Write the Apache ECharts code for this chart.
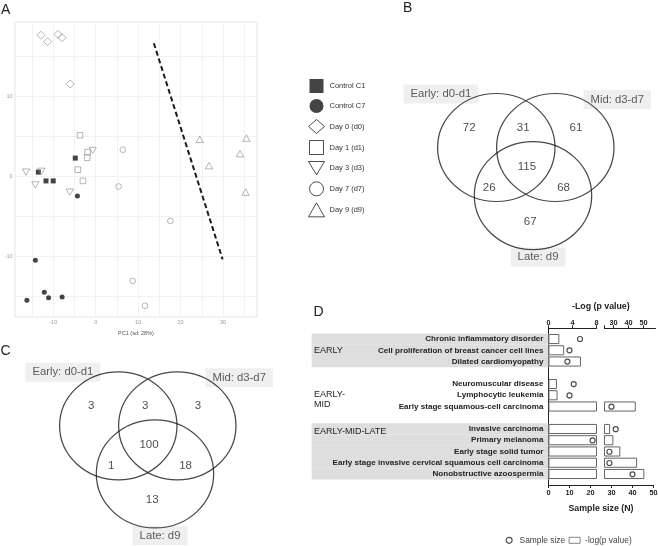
<!DOCTYPE html>
<html><head><meta charset="utf-8">
<script src="https://cdn.jsdelivr.net/npm/echarts@6/dist/echarts.min.js"></script>
<style>html,body{margin:0;padding:0;background:#fff}#c{width:658px;height:546px}</style>
</head><body><div id="c"></div>
<script>
// ---------- Panel A: PCA scores ----------
const controlC1 = [[-13.5,0.5],[-11.7,-0.6],[-10.0,-0.6],[-4.8,2.25]];
const controlC7 = [[-4.3,-2.5],[-14.2,-10.5],[-12.1,-14.5],[-11.1,-15.2],[-7.9,-15.1],[-16.2,-15.5]];
const day0 = [[-12.9,17.6],[-11.3,16.8],[-8.9,17.7],[-7.9,17.3],[-6.0,11.5]];
const day1 = [[-3.7,5.1],[-1.9,3.0],[-2.0,2.3],[-4.2,0.8],[-3.0,-0.6]];
const day3 = [[-16.4,0.5],[-12.8,0.6],[-14.2,-1.1],[-0.7,3.2],[-6.1,-2.0]];
const day7 = [[6.4,3.3],[5.4,-1.3],[17.6,-5.6],[8.7,-13.1],[11.6,-16.2]];
const day9 = [[24.5,4.6],[26.7,1.3],[34.0,2.8],[35.5,4.75],[35.3,-2.0]];
const dividerLine = [[13.7,16.6],[29.9,-10.4]];
const pcXTicks = [-10,0,10,20,30];
const pcYTicks = [-10,0,10];
const pcGridX = [-15,-10,-5,0,5,10,15,20,25,30,35];
const pcGridY = [-15,-10,-5,0,5,10,15];

// ---------- Panels B and C: Venn counts ----------
// order: Early only, Early∩Mid, Mid only, all three, Early∩Late, Mid∩Late, Late only
const vennSetNames = ['Early: d0-d1','Mid: d3-d7','Late: d9'];
const vennB = [72,31,61,115,26,68,67];
const vennC = [3,3,3,100,1,18,13];

// ---------- Panel D: enrichment ----------
const categories = ['Chronic inflammatory disorder','Cell proliferation of breast cancer cell lines','Dilated cardiomyopathy',
  'Neuromuscular disease','Lymphocytic leukemia','Early stage squamous-cell carcinoma',
  'Invasive carcinoma','Primary melanoma','Early stage solid tumor','Early stage invasive cervical squamous cell carcinoma','Nonobstructive azoospermia'];
const groups = ['EARLY','EARLY','EARLY','EARLY-MID','EARLY-MID','EARLY-MID',
  'EARLY-MID-LATE','EARLY-MID-LATE','EARLY-MID-LATE','EARLY-MID-LATE','EARLY-MID-LATE'];
const negLogP = [1.8,2.6,5.4,1.4,1.5,44.8,27.7,29.9,34.5,45.7,50.5];
const sampleSize = [15,10,9,12,10,30,32,21,29,29,40];
const pTicksLow = [0,4,8];
const pTicksHigh = [30,40,50];
const shadedGroups = ['EARLY','EARLY-MID-LATE'];

// ---------- layout (not data) ----------
const vennCircleLayout = [[0,0],[1,0],[0.622,-0.89]];
const vennRegionLayout = [[-0.46,0.37],[0.455,0.37],[1.35,0.37],[0.52,-0.35],[-0.12,-0.74],[1.14,-0.74],[0.574,-1.38]];
const vennLabelLayout = [[-0.94,0.99],[2.05,0.89],[0.707,-2.03]];

// build rows for D with blank spacer rows between groups
const rowNames=[], rowP=[], rowN=[], rowShade=[];
let prevG=null, sp=0;
categories.forEach((c,i)=>{
  if(prevG!==null && groups[i]!==prevG){ sp++; rowNames.push(' '.repeat(sp)); rowP.push('-'); rowN.push(null); rowShade.push('-'); }
  rowNames.push(c); rowP.push(negLogP[i]); rowN.push(sampleSize[i]);
  rowShade.push(shadedGroups.indexOf(groups[i])>=0?1:'-');
  prevG=groups[i];
});
const highMin = 24, lowMax = 8;

const FONT = 'Liberation Sans, Arial, sans-serif';
const hollow = {color:'rgba(255,255,255,0)', borderColor:'#8c8c8c', borderWidth:0.8};
const filled = {color:'#151515', borderColor:'#151515', borderWidth:0};
const SQ = 'path://M0,0H10V10H0Z';
const INVTRI = 'path://M0,0H12L6,10Z';

function pts(name, data, symbol, size, style){
  return {type:'scatter', name, xAxisIndex:0, yAxisIndex:0, data, symbol, symbolSize:size, itemStyle:style, silent:true, z:3};
}

function vennSeries(gi, counts){
  return [
    {type:'scatter', xAxisIndex:gi, yAxisIndex:gi, silent:true, z:2,
      data: vennSetNames.map((n,i)=>({name:n, value:vennLabelLayout[i]})),
      symbolSize:1, itemStyle:{color:'rgba(0,0,0,0)'},
      label:{show:true, position:'inside', formatter:'{b}', backgroundColor:'#ebebeb', padding:[4,7,4,7],
        fontSize:11.3, color:'#333', fontFamily:FONT}},
    {type:'scatter', xAxisIndex:gi, yAxisIndex:gi, silent:true, z:3,
      data: vennCircleLayout, symbol:'circle', symbolSize:[117.4,108],
      itemStyle:{color:'rgba(0,0,0,0)', borderColor:'#1a1a1a', borderWidth:1.2}},
    {type:'scatter', xAxisIndex:gi, yAxisIndex:gi, silent:true, z:4,
      data: counts.map((v,i)=>({value:[vennRegionLayout[i][0], vennRegionLayout[i][1], v]})),
      symbolSize:1, itemStyle:{color:'rgba(0,0,0,0)'},
      label:{show:true, position:'inside', formatter:p=>String(p.value[2]), fontSize:11.5, color:'#222', fontFamily:FONT}}
  ];
}

const hiddenAxis = (gi,min,max)=>({type:'value', gridIndex:gi, min, max, show:false, splitLine:{show:false}});
const boldLbl = {fontSize:7.3, fontWeight:'bold', color:'#222', fontFamily:FONT};

const option = {
  animation:false,
  backgroundColor:'#fff',
  textStyle:{fontFamily:FONT},
  grid:[
    {left:15, top:22, width:242, height:295, show:true, borderColor:'#dedede', borderWidth:0.8, backgroundColor:'#fff', outerBoundsMode:'none'},
    {left:384.2, top:66.5, width:265.5, height:216, outerBoundsMode:'none'},
    {left:6.2, top:344.8, width:265.5, height:216, outerBoundsMode:'none'},
    {left:311.7, top:333.4, width:236.8, height:146.2, outerBoundsMode:'none'},
    {left:548.5, top:333.4, width:48, height:146.2, outerBoundsMode:'none'},
    {left:604.5, top:333.4, width:51, height:146.2, outerBoundsMode:'none'},
    {left:548.5, top:328.3, width:105, height:156.7, outerBoundsMode:'none'}
  ],
  xAxis:[
    {type:'value', gridIndex:0, min:-19, max:38,
      axisLine:{show:false}, axisTick:{show:false, customValues:pcGridX},
      axisLabel:{customValues:pcXTicks, fontSize:5.5, color:'#9a9a9a', margin:2.5},
      splitLine:{show:true, lineStyle:{color:'#ececec', width:0.7}},
      name:'PC1 (sd: 28%)', nameLocation:'middle', nameGap:7, nameTextStyle:{fontSize:5.5, color:'#555'}},
    hiddenAxis(1,-1.9,2.6),
    hiddenAxis(2,-1.9,2.6),
    hiddenAxis(3,0,1),
    {type:'value', gridIndex:4, position:'top', offset:5.1, min:0, max:lowMax, interval:4,
      axisLine:{show:true, lineStyle:{color:'#222', width:1}},
      axisTick:{show:true, length:3, lineStyle:{color:'#222'}},
      axisLabel:Object.assign({margin:2, customValues:pTicksLow}, boldLbl), splitLine:{show:false}},
    {type:'value', gridIndex:5, position:'top', offset:5.1, min:highMin, max:58,
      axisLine:{show:true, lineStyle:{color:'#222', width:1}},
      axisTick:{show:true, length:3, lineStyle:{color:'#222'}, customValues:[highMin].concat(pTicksHigh)},
      axisLabel:Object.assign({margin:2, customValues:pTicksHigh}, boldLbl), splitLine:{show:false}},
    {type:'value', gridIndex:6, position:'bottom', min:0, max:50, interval:10,
      axisLine:{show:true, onZero:false, lineStyle:{color:'#222', width:1}},
      axisTick:{show:true, length:3, lineStyle:{color:'#222'}},
      axisLabel:Object.assign({margin:4}, boldLbl), splitLine:{show:false},
      name:'Sample size (N)', nameLocation:'middle', nameGap:19,
      nameTextStyle:{fontSize:8.8, fontWeight:'bold', color:'#222'}}
  ],
  yAxis:[
    {type:'value', gridIndex:0, min:-17.6, max:19.25,
      axisLine:{show:false}, axisTick:{show:false, customValues:pcGridY},
      axisLabel:{customValues:pcYTicks, fontSize:5.5, color:'#9a9a9a', margin:2.5},
      splitLine:{show:true, lineStyle:{color:'#ececec', width:0.7}},
      name:'PC2 (sd: 16%)', nameLocation:'middle', nameGap:6, nameRotate:90, nameTextStyle:{fontSize:5.5, color:'#555'}},
    hiddenAxis(1,-2.5,1.5),
    hiddenAxis(2,-2.5,1.5),
    {type:'category', gridIndex:3, data:rowNames, inverse:true, show:false},
    {type:'category', gridIndex:4, data:rowNames, inverse:true, z:5,
      axisLine:{show:false}, axisTick:{show:false},
      axisLabel:{fontSize:8.1, fontWeight:'bold', color:'#222', margin:5, interval:0}},
    {type:'category', gridIndex:5, data:rowNames, inverse:true, show:false},
    {type:'value', gridIndex:6, min:-0.95, max:rowNames.length-0.05, inverse:true,
      axisLine:{show:true, onZero:false, lineStyle:{color:'#222', width:1}},
      axisTick:{show:false}, axisLabel:{show:false}, splitLine:{show:false}}
  ],
  legend:[
    {orient:'vertical', left:303, top:74, itemWidth:16, itemHeight:14, itemGap:6, selectedMode:false,
      textStyle:{fontSize:7.5, color:'#333'},
      data:[
        {name:'Control C1', icon:SQ, itemStyle:{color:'#151515', borderColor:'#151515', borderWidth:0}},
        {name:'Control C7', icon:'circle', itemStyle:{color:'#151515', borderColor:'#151515', borderWidth:0}},
        {name:'Day 0 (d0)', icon:'diamond', itemStyle:{color:'#fff', borderColor:'#222', borderWidth:1}},
        {name:'Day 1 (d1)', icon:SQ, itemStyle:{color:'#fff', borderColor:'#222', borderWidth:1}},
        {name:'Day 3 (d3)', icon:INVTRI, itemStyle:{color:'#fff', borderColor:'#222', borderWidth:1}},
        {name:'Day 7 (d7)', icon:'circle', itemStyle:{color:'#fff', borderColor:'#222', borderWidth:1}},
        {name:'Day 9 (d9)', icon:'triangle', itemStyle:{color:'#fff', borderColor:'#222', borderWidth:1}}
      ]},
    {orient:'horizontal', left:500.5, top:531.3, itemWidth:11, itemHeight:6, itemGap:3.5, selectedMode:false,
      textStyle:{fontSize:8.4, color:'#444'},
      data:[
        {name:'Sample size', icon:'circle', itemStyle:{color:'#fff', borderColor:'#222', borderWidth:1.2}},
        {name:'-log(p value)', icon:'rect', itemStyle:{color:'#fff', borderColor:'#666', borderWidth:0.8}}
      ]}
  ],
  graphic:[
    {type:'text', left:1, top:3, z:100, style:{text:'A', fontSize:14, fill:'#222', fontFamily:FONT}},
    {type:'text', left:403, top:1, z:100, style:{text:'B', fontSize:14, fill:'#222', fontFamily:FONT}},
    {type:'text', left:0.5, top:344, z:100, style:{text:'C', fontSize:14, fill:'#222', fontFamily:FONT}},
    {type:'text', left:313.5, top:305.5, z:100, style:{text:'D', fontSize:14, fill:'#222', fontFamily:FONT}},
    {type:'text', left:314, top:346, z:100, style:{text:'EARLY', fontSize:9, fill:'#222', fontFamily:FONT}},
    {type:'text', left:314, top:389.5, z:100, style:{text:'EARLY-\nMID', fontSize:9, lineHeight:10, fill:'#222', fontFamily:FONT}},
    {type:'text', left:314, top:427, z:100, style:{text:'EARLY-MID-LATE', fontSize:9, fill:'#222', fontFamily:FONT}},
    {type:'text', left:572, top:302, z:100, style:{text:'-Log (p value)', fontSize:8.8, fontWeight:'bold', fill:'#222', fontFamily:FONT}}
  ],
  series:[
    pts('Control C1', controlC1, 'rect', 5, filled),
    pts('Control C7', controlC7, 'circle', 5, filled),
    pts('Day 0 (d0)', day0, 'diamond', 8, hollow),
    pts('Day 1 (d1)', day1, 'rect', 5.6, hollow),
    pts('Day 3 (d3)', day3, INVTRI, [7.3,6.3], hollow),
    pts('Day 7 (d7)', day7, 'circle', 5.7, hollow),
    pts('Day 9 (d9)', day9, 'triangle', [7.3,6.5], hollow),
    {type:'line', xAxisIndex:0, yAxisIndex:0, data:dividerLine, symbol:'none', silent:true, z:4,
      lineStyle:{color:'#1a1a1a', width:2, type:[5,3]}},
    ...vennSeries(1, vennB),
    ...vennSeries(2, vennC),
    {type:'bar', xAxisIndex:3, yAxisIndex:3, data:rowShade, barCategoryGap:'0%', silent:true, z:0,
      itemStyle:{color:'#dedede'}},
    {type:'bar', name:'-log(p value)', xAxisIndex:4, yAxisIndex:4, data:rowP, barWidth:10, silent:true, clip:true, z:2,
      itemStyle:{color:'#fff', borderColor:'#555', borderWidth:0.9}},
    {type:'bar', name:'-log(p value)', xAxisIndex:5, yAxisIndex:5, data:rowP.map(v=>(v!=='-' && v>highMin)?v:'-'), barWidth:10, silent:true, clip:true, z:2,
      itemStyle:{color:'#fff', borderColor:'#555', borderWidth:0.9}},
    {type:'scatter', name:'Sample size', xAxisIndex:6, yAxisIndex:6, silent:true, z:5,
      data:rowN.map((v,i)=>v==null?null:[v,i]).filter(Boolean),
      symbol:'circle', symbolSize:5, itemStyle:{color:'#fff', borderColor:'#222', borderWidth:1.2}}
  ]
};
const chart = echarts.init(document.getElementById('c'));
chart.setOption(option);
</script>
</body></html>
